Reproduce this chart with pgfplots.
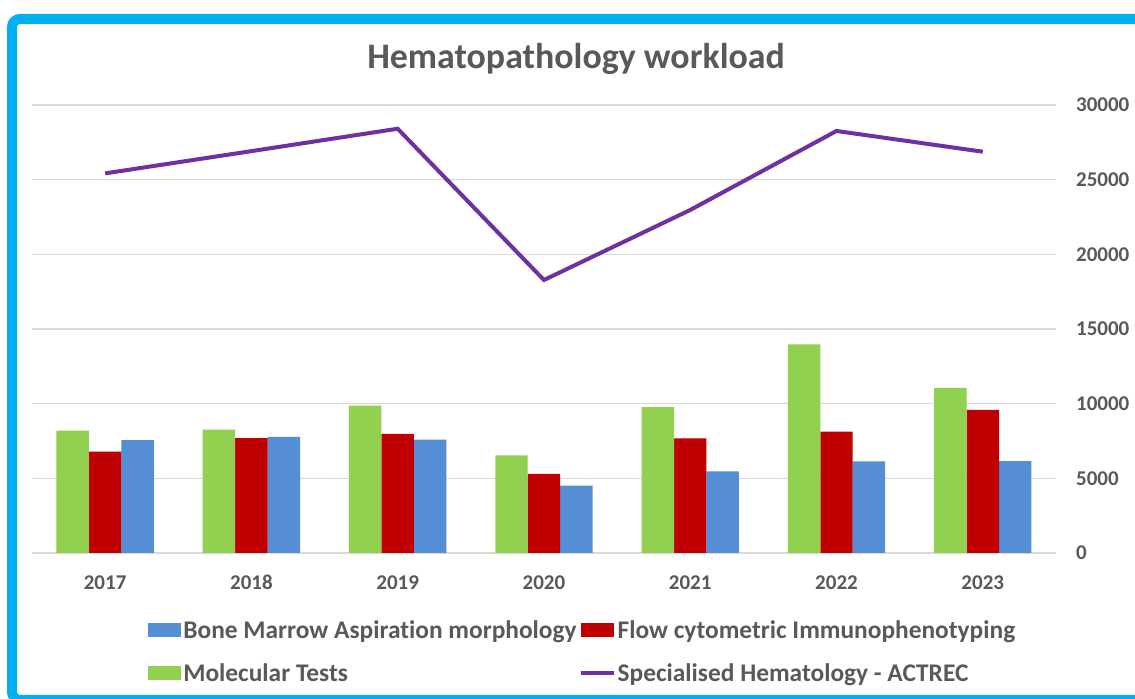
\documentclass[border=0pt]{standalone}
\usepackage{fontspec}
\setmainfont{Carlito}[Ligatures=NoCommon]
\usepackage{pgfplots}
\pgfplotsset{compat=1.18}
\definecolor{cgreen}{HTML}{92D050}
\definecolor{cred}{HTML}{C00000}
\definecolor{cblue}{HTML}{558ED5}
\definecolor{cpurple}{HTML}{7030A0}
\definecolor{cgrid}{HTML}{D9D9D9}
\definecolor{ctext}{HTML}{595959}
\definecolor{cframe}{HTML}{00B0F0}
\begin{document}
\begin{tikzpicture}[x=1bp,y=1bp]
\useasboundingbox (0,0) rectangle (1135,699);
\clip (0,0) rectangle (1135,699);
\fill[white] (0,0) rectangle (1135,699);
\draw[cframe, line width=10bp, rounded corners=8bp] (12,-1) rectangle (1160,680);
\node[font=\fontsize{35.9bp}{40bp}\selectfont\bfseries, text=ctext] at (576,640) {Hematopathology workload};
\begin{axis}[
  at={(32bp,146bp)}, anchor=south west,
  scale only axis, width=1024bp, height=448bp,
  xmin=-0.5, xmax=6.5, ymin=0, ymax=30000,
  axis line style={draw=none},
  major tick length=0pt, tick style={draw=none},
  ymajorgrids, grid style={cgrid, line width=1.5bp},
  ytick={0,5000,...,30000},
  yticklabel pos=right,
  scaled y ticks=false,
  /pgf/number format/.cd, 1000 sep={}, assume math mode=true, /pgfplots/.cd,
  xtick={0,...,6},
  xticklabels={2017,2018,2019,2020,2021,2022,2023},
  ticklabel style={font=\fontsize{21bp}{25bp}\selectfont\bfseries, text=ctext},
  yticklabel style={anchor=west, inner sep=0pt, xshift=20bp},
  xticklabel style={anchor=base, inner sep=0pt, yshift=-37bp},
  legend columns=2,
  legend cell align=left,
  legend style={
    at={(0.1105,-0.141)}, anchor=north west,
    draw=none, fill=none,
    font=\fontsize{25.4bp}{29bp}\selectfont\bfseries, text=ctext,
    row sep=20bp,
    /tikz/every even column/.append style={column sep=0bp},
    nodes={inner sep=2bp},
  },
]
\addplot[ybar, bar width=0.222, bar shift=0.222, fill=cblue, draw=none,
  legend image code/.code={\fill[cblue] (0bp,-7bp) rectangle (33bp,7bp);}]
  coordinates {(0,7550) (1,7770) (2,7590) (3,4510) (4,5470) (5,6140) (6,6160)};
\addlegendentry{Bone Marrow Aspiration morphology}
\addplot[ybar, bar width=0.222, bar shift=0, fill=cred, draw=none,
  legend image code/.code={\fill[cred] (0bp,-7bp) rectangle (33bp,7bp);}]
  coordinates {(0,6780) (1,7700) (2,7970) (3,5290) (4,7670) (5,8120) (6,9580)};
\addlegendentry{Flow cytometric Immunophenotyping}
\addplot[ybar, bar width=0.222, bar shift=-0.222, fill=cgreen, draw=none,
  legend image code/.code={\fill[cgreen] (0bp,-7bp) rectangle (33bp,7bp);}]
  coordinates {(0,8190) (1,8260) (2,9870) (3,6540) (4,9770) (5,13970) (6,11050)};
\addlegendentry{Molecular Tests}
\addplot[sharp plot, no markers, cpurple, line width=4bp, line join=miter,
  legend image code/.code={\draw[cpurple, line width=4bp] (0bp,0bp) -- (33bp,0bp);}]
  coordinates {(0,25420) (1,26910) (2,28410) (3,18280) (4,22970) (5,28260) (6,26870)};
\addlegendentry{Specialised Hematology - ACTREC}
\end{axis}
\end{tikzpicture}
\end{document}
